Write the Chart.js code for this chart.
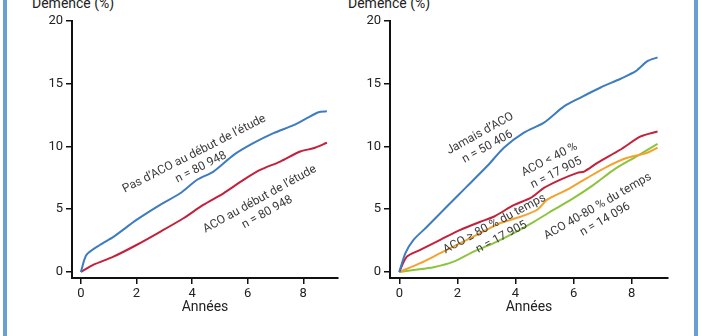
<!DOCTYPE html>
<html>
<head>
<meta charset="utf-8">
<script src="https://cdn.jsdelivr.net/npm/chart.js@4"></script>
<style>
  html, body { margin: 0; padding: 0; background: #fff; }
  #wrap { position: relative; width: 702px; height: 336px; overflow: hidden; background: #fff; }
  .bord { position: absolute; top: 0; width: 4px; height: 336px; background: #6a9fd6; }
  .ttl { position: absolute; top: -5px; font: 14px Roboto, sans-serif; color: #222; white-space: nowrap; }
  canvas { position: absolute; top: 0; }
</style>
</head>
<body>
<div id="wrap">
  <div class="bord" style="left:3px"></div>
  <div class="bord" style="left:694px"></div>
  <div class="ttl" style="left:32px">Démence (%)</div>
  <div class="ttl" style="left:348px">Démence (%)</div>
  <canvas id="left" width="351" height="336" style="left:0"></canvas>
  <canvas id="right" width="351" height="336" style="left:351px"></canvas>
</div>
<script>
// --- données ---
const xTicks = [0, 2, 4, 6, 8];
const yTicks = [0, 5, 10, 15, 20];

// panneau gauche
const pasAcoYears = [0, 0.2, 0.68, 1.17, 2.0, 2.85, 3.57, 4.17, 4.77, 5.5, 6.2, 6.93, 7.65, 8.13, 8.55, 8.85];
const pasAcoVals  = [0, 1.36, 2.15, 2.8, 4.15, 5.35, 6.27, 7.33, 8.0, 9.33, 10.26, 11.06, 11.7, 12.26, 12.73, 12.8];
const acoYears = [0, 0.44, 1.17, 2.0, 2.85, 3.69, 4.4, 5.13, 5.85, 6.45, 7.17, 7.89, 8.37, 8.85];
const acoVals  = [0, 0.56, 1.22, 2.15, 3.2, 4.28, 5.34, 6.27, 7.34, 8.13, 8.8, 9.6, 9.86, 10.3];

// panneau droit
const jamaisYears = [0, 0.21, 0.49, 0.96, 1.64, 2.33, 3.02, 3.6, 4.29, 4.98, 5.67, 6.24, 6.93, 7.62, 8.14, 8.54, 8.89];
const jamaisVals  = [0, 1.5, 2.56, 3.62, 5.22, 6.82, 8.42, 9.9, 11.1, 11.9, 13.2, 13.9, 14.7, 15.4, 16.0, 16.8, 17.1];
const moins40Years = [0, 0.26, 0.72, 1.41, 2.1, 2.79, 3.25, 3.94, 4.52, 4.98, 5.55, 6.13, 6.36, 6.82, 7.62, 8.31, 8.89];
const moins40Vals  = [0, 1.22, 1.76, 2.56, 3.36, 4.0, 4.4, 5.32, 5.9, 6.7, 7.36, 7.9, 8.0, 8.7, 9.76, 10.8, 11.2];
const plus80Years = [0, 0.72, 1.41, 2.1, 2.79, 3.48, 4.17, 4.75, 5.09, 5.78, 6.47, 7.16, 7.85, 8.54, 8.89];
const plus80Vals  = [0, 0.7, 1.5, 2.3, 3.1, 3.9, 4.4, 4.96, 5.76, 6.56, 7.5, 8.4, 9.1, 9.5, 9.9];
const entre4080Years = [0, 0.49, 1.18, 1.87, 2.56, 3.25, 3.94, 4.63, 5.32, 6.01, 6.7, 7.39, 8.08, 8.89];
const entre4080Vals  = [0, 0.16, 0.38, 0.82, 1.62, 2.3, 3.1, 4.0, 4.96, 5.9, 6.96, 8.16, 9.1, 10.2];

const BLUE = '#3d7cc0', RED = '#c4203a', ORANGE = '#f4a22c', GREEN = '#8cc43c';

function pts(xs, ys) {
    return xs.map((x, i) => ({ x: x, y: ys[i] }));
}

function serie(xs, ys, color) {
    return {
        data: pts(xs, ys),
        borderColor: color,
        borderWidth: 2,
        pointRadius: 0,
        tension: 0.25,
        fill: false
    };
}

// étiquettes inclinées posées en coordonnées de données
const annotPlugin = {
    id: 'annot',
    afterDatasetsDraw(chart, args, opts) {
        const ctx = chart.ctx;
        const sx = chart.scales.x, sy = chart.scales.y;
        ctx.save();
        ctx.font = '12px Roboto, sans-serif';
        ctx.fillStyle = '#3a3a3a';
        ctx.textAlign = 'center';
        ctx.textBaseline = 'middle';
        (opts.items || []).forEach(it => {
            ctx.save();
            ctx.translate(sx.getPixelForValue(it.x), sy.getPixelForValue(it.y));
            ctx.rotate(-it.angle * Math.PI / 180);
            ctx.fillText(it.lines[0], 0, -7.5);
            ctx.fillText(it.lines[1], 0, 7.5);
            ctx.restore();
        });
        ctx.restore();
    }
};

function makeChart(id, datasets, yWidth, padRight, items) {
    return new Chart(document.getElementById(id), {
        type: 'line',
        data: { datasets: datasets },
        plugins: [annotPlugin],
        options: {
            responsive: false,
            animation: false,
            layout: { padding: { left: 0, right: padRight, top: 21, bottom: 18 } },
            plugins: {
                legend: { display: false },
                tooltip: { enabled: false },
                annot: { items: items }
            },
            scales: {
                x: {
                    type: 'linear',
                    min: -0.32,
                    max: 9.25,
                    afterBuildTicks: s => { s.ticks = xTicks.map(v => ({ value: v })); },
                    afterFit: s => { s.height = 40; },
                    border: { display: true, color: '#111', width: 2 },
                    grid: { display: true, drawOnChartArea: false, drawTicks: true, tickLength: 6, color: '#111', lineWidth: 1.5 },
                    ticks: { color: '#222', font: { family: 'Roboto', size: 13 }, padding: 2, maxRotation: 0 },
                    title: { display: true, text: 'Années', color: '#222', font: { family: 'Roboto', size: 14 }, padding: { top: 0, bottom: 2 } }
                },
                y: {
                    min: -0.48,
                    max: 20,
                    afterBuildTicks: s => { s.ticks = yTicks.map(v => ({ value: v })); },
                    afterFit: s => { s.width = yWidth; },
                    border: { display: true, color: '#111', width: 2 },
                    grid: { display: true, drawOnChartArea: false, drawTicks: true, tickLength: 6, color: '#111', lineWidth: 1.5 },
                    ticks: { color: '#222', font: { family: 'Roboto', size: 13 }, padding: 3 }
                }
            }
        }
    });
}

makeChart('left', [
    serie(pasAcoYears, pasAcoVals, BLUE),
    serie(acoYears, acoVals, RED)
], 72, 13, [
    { x: 4.2, y: 8.87, angle: 27, lines: ['Pas d’ACO au début de l’étude', 'n = 80 948'] },
    { x: 6.57, y: 5.28, angle: 29, lines: ['ACO au début de l’étude', 'n = 80 948'] }
]);

makeChart('right', [
    serie(jamaisYears, jamaisVals, BLUE),
    serie(moins40Years, moins40Vals, RED),
    serie(plus80Years, plus80Vals, ORANGE),
    serie(entre4080Years, entre4080Vals, GREEN)
], 39, 34, [
    { x: 2.91, y: 10.5, angle: 29, lines: ['Jamais d’ACO', 'n = 50 406'] },
    { x: 5.29, y: 8.42, angle: 27, lines: ['ACO < 40 %', 'n = 17 905'] },
    { x: 3.4, y: 3.3, angle: 28, lines: ['ACO ≥ 80 % du temps', 'n = 17 905'] },
    { x: 6.96, y: 4.7, angle: 30, lines: ['ACO 40-80 % du temps', 'n = 14 096'] }
]);
</script>
</body>
</html>
